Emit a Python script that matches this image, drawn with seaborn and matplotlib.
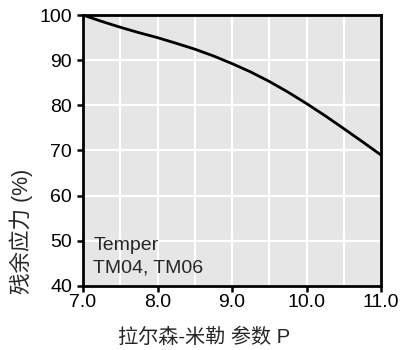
import matplotlib
matplotlib.use("Agg")
import matplotlib.pyplot as plt
import seaborn as sns
import pandas as pd

# Data
larson_miller_p = [7.0, 7.25, 7.5, 7.75, 8.0, 8.25, 8.5, 8.75, 9.0,
                   9.25, 9.5, 9.75, 10.0, 10.25, 10.5, 10.75, 11.0]
residual_stress = [100.0, 98.6, 97.3, 96.1, 95.0, 93.75, 92.45, 90.95, 89.25,
                   87.4, 85.3, 82.95, 80.4, 77.7, 74.85, 71.95, 69.0]

x_ticks = [7.0, 8.0, 9.0, 10.0, 11.0]
x_tick_labels = ["7.0", "8.0", "9.0", "10.0", "11.0"]
y_ticks = [40, 50, 60, 70, 80, 90, 100]
x_label = "拉尔森-米勒 参数 P"
y_label = "残余应力 (%)"
annotation = "Temper\nTM04, TM06"

sns.set_theme(style="white")
plt.rcParams["font.family"] = ["Liberation Sans", "Noto Sans CJK SC", "DejaVu Sans"]

df = pd.DataFrame({"P": larson_miller_p, "stress": residual_stress})

fig = plt.figure(figsize=(4, 3.5), dpi=100)
ax = fig.add_axes([0.2075, 0.183, 0.745, 0.774])
ax.set_facecolor("#e6e6e6")

sns.lineplot(data=df, x="P", y="stress", ax=ax, color="black", linewidth=2)

ax.set_xlim(7.0, 11.0)
ax.set_ylim(40, 100)
ax.set_xticks(x_ticks)
ax.set_xticklabels(x_tick_labels)
ax.set_yticks(y_ticks)
ax.set_xticks([7.5, 8.5, 9.5, 10.5], minor=True)
ax.grid(True, which="both", color="white", linewidth=1.5)
ax.set_axisbelow(True)
ax.tick_params(which="major", direction="out", length=4, width=1.8, labelsize=14,
               colors="black", left=True, bottom=True)
ax.tick_params(axis="x", pad=2)
ax.tick_params(axis="y", pad=4)
ax.tick_params(which="minor", length=0)
for side in ["left", "bottom", "right", "top"]:
    ax.spines[side].set_color("black")
    ax.spines[side].set_linewidth(2)

ax.set_xlabel(x_label, fontsize=14.5, ha="center", va="center")
ax.xaxis.set_label_coords(0.406, -0.188)
ax.set_ylabel(y_label, fontsize=15.5, ha="center", va="center")
ax.yaxis.set_label_coords(-0.208, 0.203)
ax.text(0.035, 0.035, annotation, transform=ax.transAxes, fontsize=14,
        ha="left", va="bottom", linespacing=1.4)

fig.savefig("out.png", dpi=100)
